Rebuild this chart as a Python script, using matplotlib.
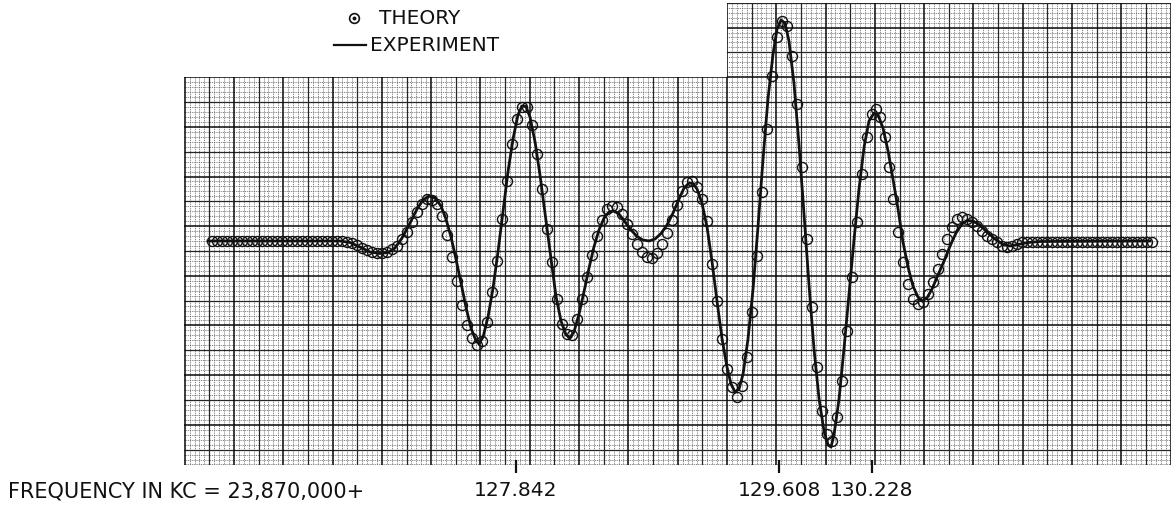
import matplotlib
matplotlib.use("Agg")
import matplotlib.pyplot as plt
import numpy as np
from matplotlib.patches import Polygon
from matplotlib.collections import LineCollection

# ---------------- data (frequency offset in kc, amplitude in chart divisions) -------------
theory_freq = [
    125.800, 125.833, 125.867, 125.900, 125.934, 125.968, 126.001, 126.035, 126.068, 126.102,
    126.135, 126.169, 126.202, 126.236, 126.270, 126.303, 126.337, 126.370, 126.404, 126.437,
    126.471, 126.504, 126.538, 126.571, 126.605, 126.639, 126.672, 126.706, 126.739, 126.773,
    126.806, 126.840, 126.873, 126.907, 126.941, 126.974, 127.008, 127.041, 127.075, 127.108,
    127.142, 127.175, 127.209, 127.243, 127.276, 127.310, 127.343, 127.377, 127.410, 127.444,
    127.478, 127.511, 127.545, 127.578, 127.612, 127.645, 127.679, 127.712, 127.746, 127.780,
    127.813, 127.847, 127.880, 127.914, 127.947, 127.981, 128.014, 128.048, 128.082, 128.115,
    128.149, 128.182, 128.216, 128.249, 128.283, 128.317, 128.350, 128.384, 128.417, 128.451,
    128.484, 128.518, 128.551, 128.585, 128.619, 128.652, 128.686, 128.719, 128.753, 128.786,
    128.820, 128.853, 128.887, 128.921, 128.954, 128.988, 129.021, 129.055, 129.088, 129.122,
    129.156, 129.189, 129.223, 129.256, 129.290, 129.323, 129.357, 129.390, 129.424, 129.458,
    129.491, 129.525, 129.558, 129.592, 129.625, 129.659, 129.692, 129.726, 129.760, 129.793,
    129.827, 129.860, 129.894, 129.927, 129.961, 129.995, 130.028, 130.062, 130.095, 130.129,
    130.162, 130.196, 130.229,
    130.255, 130.287, 130.317, 130.345,
    130.374, 130.408, 130.441, 130.475, 130.508, 130.542, 130.576, 130.609, 130.643, 130.671,
    130.699, 130.733, 130.766, 130.802, 130.835, 130.869, 130.902, 130.936, 130.970, 131.003,
    131.037, 131.070, 131.104, 131.137, 131.171, 131.204, 131.238,
    131.272, 131.305, 131.339, 131.372, 131.406, 131.440, 131.473, 131.507, 131.540, 131.574,
    131.607, 131.641, 131.675, 131.708, 131.742, 131.775, 131.809, 131.842, 131.876, 131.909,
    131.943, 131.977, 132.010, 132.044, 132.077, 132.111,
]
theory_amp = [
    0.00, 0.00, 0.00, 0.00, 0.00, 0.00, 0.00, 0.00, 0.00, 0.00,
    0.00, 0.00, 0.00, 0.00, 0.00, 0.00, 0.00, 0.00, 0.00, 0.00,
    0.00, 0.00, 0.00, 0.00, 0.00, 0.00, 0.00,
    -0.04, -0.08, -0.16, -0.26, -0.36, -0.44, -0.48, -0.48, -0.44, -0.32,
    -0.19, 0.08, 0.35, 0.75, 1.15, 1.48, 1.68, 1.66, 1.48, 1.00,
    0.24, -0.64, -1.60, -2.56, -3.36, -3.88, -4.14, -4.00, -3.24, -2.04,
    -0.79, 0.88, 2.41, 3.88, 4.88, 5.36, 5.35, 4.64, 3.48, 2.08,
    0.48, -0.85, -2.32, -3.32, -3.72, -3.76, -3.12, -2.32, -1.44, -0.56,
    0.20, 0.84, 1.30, 1.42, 1.36, 1.08, 0.68, 0.28, -0.12, -0.44,
    -0.62, -0.66, -0.48, -0.12, 0.32, 0.84, 1.44, 2.00, 2.36, 2.40,
    2.16, 1.68, 0.80, -0.92, -2.39, -3.92, -5.12, -5.85, -6.25, -5.79,
    -4.65, -2.85, -0.59, 1.95, 4.48, 6.61, 8.15, 8.81, 8.61, 7.41,
    5.48, 2.95, 0.08, -2.65, -5.05, -6.79, -7.72, -7.99, -7.05, -5.59,
    -3.59, -1.45, 0.75, 2.68, 4.15, 5.08,
    5.28, 4.95, 4.15, 2.95,
    1.68, 0.35, -0.85, -1.72, -2.32, -2.52, -2.45, -2.12, -1.65, -1.12,
    -0.52, 0.08, 0.55, 0.88, 0.95, 0.88, 0.75, 0.61, 0.41, 0.21,
    0.08, -0.05, -0.19, -0.25, -0.21, -0.12, -0.05,
    -0.02, -0.02, -0.02, -0.02, -0.02, -0.02, -0.02, -0.02, -0.02, -0.02,
    -0.02, -0.02, -0.02, -0.02, -0.02, -0.02, -0.02, -0.02, -0.02, -0.02,
    -0.02, -0.02, -0.02, -0.02, -0.02, -0.02,
]

exp_freq = [
    125.775, 126.661, 126.728, 126.795, 126.862, 126.929, 126.983, 127.030, 127.077, 127.131,
    127.178, 127.218, 127.258, 127.298, 127.339, 127.372, 127.406, 127.439, 127.473, 127.506,
    127.540, 127.574, 127.594, 127.621, 127.654, 127.688, 127.721, 127.755, 127.788, 127.822,
    127.855, 127.882, 127.909, 127.936, 127.970, 128.003, 128.043, 128.077, 128.110, 128.144,
    128.178, 128.204, 128.231, 128.265, 128.298, 128.332, 128.365, 128.399, 128.433, 128.466,
    128.500, 128.533, 128.574, 128.614, 128.654, 128.694, 128.735, 128.775, 128.815, 128.855,
    128.896, 128.936, 128.970, 129.003, 129.030, 129.057, 129.090, 129.124, 129.157, 129.191,
    129.225, 129.258, 129.285, 129.312, 129.339, 129.366, 129.399, 129.433, 129.466, 129.500,
    129.533, 129.567, 129.594, 129.621, 129.647, 129.674, 129.708, 129.741, 129.775, 129.808,
    129.842, 129.876, 129.909, 129.936, 129.956, 129.976, 130.010, 130.043, 130.077, 130.111,
    130.144, 130.178, 130.211, 130.245, 130.272, 130.305, 130.339, 130.372, 130.406, 130.439,
    130.473, 130.506, 130.540, 130.567, 130.600, 130.634, 130.674, 130.715, 130.755, 130.795,
    130.835, 130.869, 130.909, 130.956, 131.010, 131.057, 131.111, 131.157, 131.211, 131.278,
    131.359, 132.097,
]
exp_amp = [
    0.00, 0.00, -0.06, -0.24, -0.44, -0.50, -0.46, -0.28, 0.12, 0.72,
    1.28, 1.64, 1.80, 1.72, 1.40, 0.88, 0.16, -0.72, -1.68, -2.64,
    -3.48, -4.00, -4.10, -3.84, -3.04, -1.88, -0.44, 1.20, 2.76, 4.08,
    5.04, 5.40, 5.38, 4.96, 3.96, 2.64, 0.84, -0.72, -2.20, -3.20,
    -3.76, -3.86, -3.64, -2.92, -2.04, -1.08, -0.24, 0.44, 0.92, 1.16,
    1.20, 1.08, 0.76, 0.44, 0.18, 0.04, 0.00, 0.08, 0.30, 0.64,
    1.12, 1.68, 2.12, 2.32, 2.30, 2.08, 1.52, 0.56, -0.80, -2.40,
    -3.92, -5.04, -5.72, -6.04, -5.92, -5.32, -3.92, -1.92, 0.56, 3.28,
    5.68, 7.48, 8.48, 8.84, 8.72, 8.00, 6.28, 3.88, 1.08, -1.72,
    -4.32, -6.32, -7.60, -8.16, -8.24, -7.76, -6.32, -4.32, -2.12, 0.08,
    2.08, 3.76, 4.80, 5.12, 5.04, 4.52, 3.60, 2.48, 1.28, -0.04,
    -1.04, -1.80, -2.24, -2.40, -2.28, -1.92, -1.36, -0.80, -0.20, 0.32,
    0.68, 0.82, 0.80, 0.64, 0.32, 0.08, -0.14, -0.20, -0.14, -0.06,
    -0.02, 0.00,
]

tick_freqs = [127.842, 129.608, 130.228]
tick_labels = ["127.842", "129.608", "130.228"]
axis_title = "FREQUENCY IN KC = 23,870,000+"
legend_labels = ["THEORY", "EXPERIMENT"]

# ---------------- figure ----------------
INK = "#111111"
fig = plt.figure(figsize=(11.74, 5.06), dpi=100)
ax = fig.add_axes([0, 0, 1, 1])
ax.set_xlim(124.379, 132.258)
ax.set_ylim(-10.56, 9.68)
ax.axis("off")

# graph-paper sheet (stepped outline)
PL, PM, PR = 125.615, 129.258, 132.240
PB, PT1, PT2 = -8.96, 6.56, 9.54
paper = Polygon([(PL, PB), (PL, PT1), (PM, PT1), (PM, PT2), (PR, PT2), (PR, PB)],
                closed=True, fc="white", ec="none", zorder=0)
ax.add_patch(paper)

GX0, GDX = 129.258, 0.033087   # heavy rule at the paper step, minor spacing (kc)
GY0, GDY = 6.552, 0.1986       # heavy rule at top of sheet, minor spacing
segs = {"minor": [], "mid": [], "major": []}
for i in range(-112, 93):
    x = GX0 + i * GDX
    if x < PL or x > PR:
        continue
    key = "major" if i % 10 == 0 else ("mid" if i % 5 == 0 else "minor")
    segs[key].append([(x, PB), (x, PT2)])
for j in range(-16, 80):
    y = GY0 - j * GDY
    if y < PB or y > PT2:
        continue
    key = "major" if j % 10 == 0 else ("mid" if j % 5 == 0 else "minor")
    segs[key].append([(PL, y), (PR, y)])

styles = {"minor": dict(colors="#6e6e6e", linewidths=0.6, linestyles=[(0, (1.2, 1.0))], zorder=1),
          "mid": dict(colors="#262626", linewidths=0.9, zorder=1.5),
          "major": dict(colors="#080808", linewidths=1.1, zorder=1.6)}
for key in ("minor", "mid", "major"):
    lc = LineCollection(segs[key], **styles[key])
    ax.add_collection(lc)
    lc.set_clip_path(paper)

# curves
ax.plot(exp_freq, exp_amp, color=INK, lw=2.0, solid_joinstyle="round", zorder=3)
ax.plot(theory_freq, theory_amp, "o", mfc="none", mec=INK, ms=7.2, mew=1.0, zorder=4)

# ticks and labels under the sheet
ax.vlines(tick_freqs, -9.28, -8.76, color=INK, lw=1.6, zorder=5)
for f, lab in zip(tick_freqs, tick_labels):
    ax.text(f, -9.96, lab, ha="center", va="center", fontsize=14.5, color=INK)
ax.text(0.0068, 0.0296, axis_title, transform=ax.transAxes, ha="left", va="center",
        fontsize=15, color=INK)

# legend
ax.plot([0.3015], [0.9625], "o", mfc="none", mec=INK, ms=7, mew=1.2, transform=ax.transAxes)
ax.plot([0.3015], [0.9625], "o", color=INK, ms=1.8, transform=ax.transAxes)
ax.text(0.3230, 0.9625, legend_labels[0], transform=ax.transAxes, ha="left", va="center",
        fontsize=14.5, color=INK)
ax.plot([0.2845, 0.3118], [0.9091, 0.9091], color=INK, lw=1.6, transform=ax.transAxes)
ax.text(0.3150, 0.9091, legend_labels[1], transform=ax.transAxes, ha="left", va="center",
        fontsize=14.5, color=INK)

fig.savefig("out.png", dpi=100, facecolor="white")
